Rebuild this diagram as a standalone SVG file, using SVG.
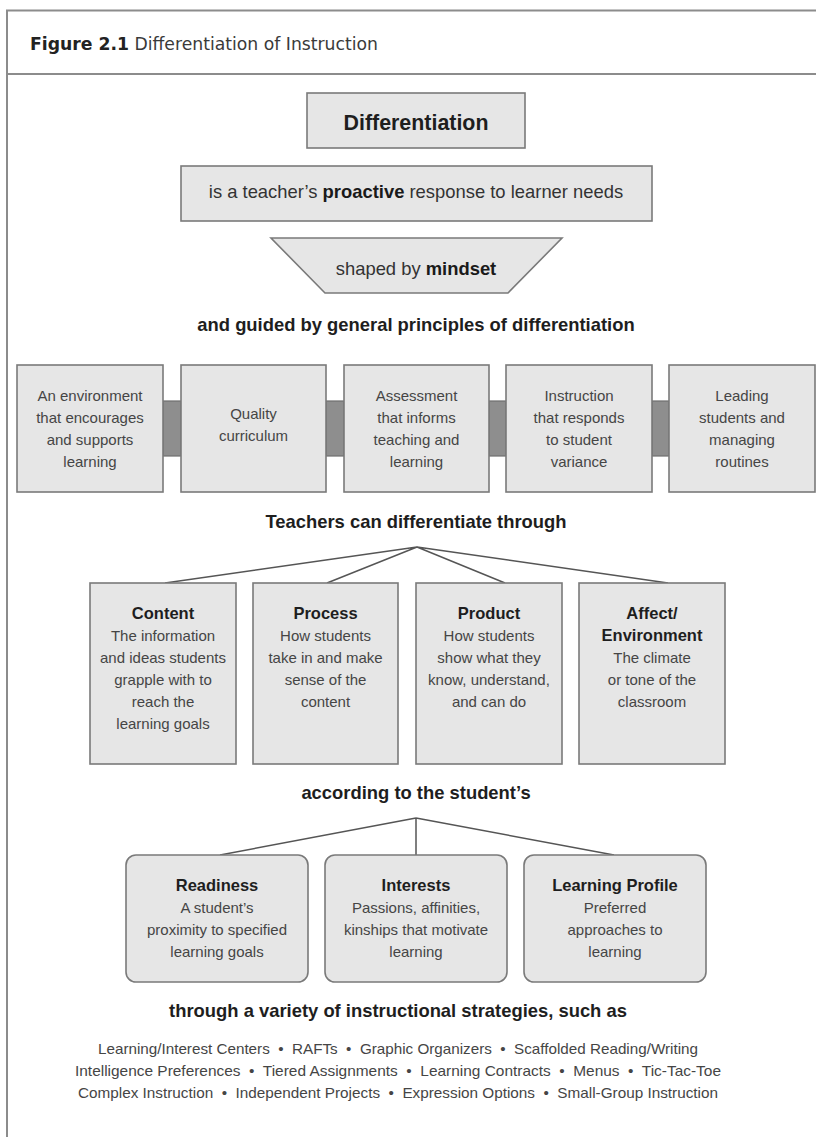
<svg xmlns="http://www.w3.org/2000/svg" width="816" height="1137" viewBox="0 0 816 1137">
  <style>
    .frame { fill: none; stroke: #8c8c8c; stroke-width: 2; }
    .box { fill: #e6e6e6; stroke: #7a7a7a; stroke-width: 1.6; }
    .band { fill: #8e8e8e; stroke: #6e6e6e; stroke-width: 1.2; }
    .link { fill: none; stroke: #555; stroke-width: 1.5; }
    text { font-family: "Liberation Sans", Arial, sans-serif; text-anchor: middle; }
    .hdr { font-family: "DejaVu Sans", sans-serif; font-size: 17px; fill: #3a3a3a; text-anchor: start; }
    .hdr .fig { font-weight: bold; fill: #222; }
    .main { font-size: 18.4px; fill: #333; }
    .main .k { font-weight: bold; fill: #1a1a1a; }
    .head { font-size: 18.4px; font-weight: bold; fill: #1e1e1e; }
    .big { font-size: 21.4px; font-weight: bold; fill: #1e1e1e; }
    .ttl { font-size: 16.5px; font-weight: bold; fill: #1e1e1e; }
    .body { font-size: 15px; fill: #454545; }
    .strat { font-size: 15px; fill: #454545; }
  </style>

  <!-- page frame and title bar -->
  <g id="frame">
    <path class="frame" d="M816 10.5 H7 V1137"/>
    <line class="frame" x1="7" y1="74" x2="816" y2="74"/>
    <text class="hdr" x="30" y="50" textLength="348" lengthAdjust="spacingAndGlyphs"><tspan class="fig">Figure 2.1</tspan> Differentiation of Instruction</text>
  </g>

  <!-- connectors -->
  <g id="connectors">
    <rect class="band" x="163" y="401" width="18" height="55"/>
    <rect class="band" x="326" y="401" width="18" height="55"/>
    <rect class="band" x="489" y="401" width="17" height="55"/>
    <rect class="band" x="652" y="401" width="17" height="55"/>
    <path class="link" d="M417 547 L165 583 M417 547 L327 583 M417 547 L505 583 M417 547 L668 583"/>
    <path class="link" d="M416 818 L220 855 M416 818 L416 855 M416 818 L614 855"/>
  </g>

  <!-- top definition -->
  <g id="differentiation">
    <rect class="box" x="307" y="93" width="218" height="55"/>
    <text class="big" x="416" y="130">Differentiation</text>
  </g>
  <g id="proactive">
    <rect class="box" x="181" y="166" width="471" height="55"/>
    <text class="main" x="416" y="198">is a teacher’s <tspan class="k">proactive</tspan> response to learner needs</text>
  </g>
  <g id="mindset">
    <polygon class="box" points="271,238 562,238 508,293 325,293"/>
    <text class="main" x="416" y="275">shaped by <tspan class="k">mindset</tspan></text>
  </g>
  <g id="principles-label">
    <text class="head" x="416" y="331">and guided by general principles of differentiation</text>
  </g>

  <!-- principles row -->
  <g id="p-environment">
    <rect class="box" x="17" y="365" width="146" height="127"/>
    <text class="body" x="90" y="401">An environment</text>
    <text class="body" x="90" y="423">that encourages</text>
    <text class="body" x="90" y="445">and supports</text>
    <text class="body" x="90" y="467">learning</text>
  </g>
  <g id="p-curriculum">
    <rect class="box" x="181" y="365" width="145" height="127"/>
    <text class="body" x="253.5" y="419">Quality</text>
    <text class="body" x="253.5" y="441">curriculum</text>
  </g>
  <g id="p-assessment">
    <rect class="box" x="344" y="365" width="145" height="127"/>
    <text class="body" x="416.5" y="401">Assessment</text>
    <text class="body" x="416.5" y="423">that informs</text>
    <text class="body" x="416.5" y="445">teaching and</text>
    <text class="body" x="416.5" y="467">learning</text>
  </g>
  <g id="p-instruction">
    <rect class="box" x="506" y="365" width="146" height="127"/>
    <text class="body" x="579" y="401">Instruction</text>
    <text class="body" x="579" y="423">that responds</text>
    <text class="body" x="579" y="445">to student</text>
    <text class="body" x="579" y="467">variance</text>
  </g>
  <g id="p-routines">
    <rect class="box" x="669" y="365" width="146" height="127"/>
    <text class="body" x="742" y="401">Leading</text>
    <text class="body" x="742" y="423">students and</text>
    <text class="body" x="742" y="445">managing</text>
    <text class="body" x="742" y="467">routines</text>
  </g>

  <g id="through-label">
    <text class="head" x="416" y="528">Teachers can differentiate through</text>
  </g>

  <!-- what can be differentiated -->
  <g id="content">
    <rect class="box" x="90" y="583" width="146" height="181"/>
    <text class="ttl" x="163" y="619">Content</text>
    <text class="body" x="163" y="641">The information</text>
    <text class="body" x="163" y="663">and ideas students</text>
    <text class="body" x="163" y="685">grapple with to</text>
    <text class="body" x="163" y="707">reach the</text>
    <text class="body" x="163" y="729">learning goals</text>
  </g>
  <g id="process">
    <rect class="box" x="253" y="583" width="145" height="181"/>
    <text class="ttl" x="325.5" y="619">Process</text>
    <text class="body" x="325.5" y="641">How students</text>
    <text class="body" x="325.5" y="663">take in and make</text>
    <text class="body" x="325.5" y="685">sense of the</text>
    <text class="body" x="325.5" y="707">content</text>
  </g>
  <g id="product">
    <rect class="box" x="416" y="583" width="146" height="181"/>
    <text class="ttl" x="489" y="619">Product</text>
    <text class="body" x="489" y="641">How students</text>
    <text class="body" x="489" y="663">show what they</text>
    <text class="body" x="489" y="685">know, understand,</text>
    <text class="body" x="489" y="707">and can do</text>
  </g>
  <g id="affect">
    <rect class="box" x="579" y="583" width="146" height="181"/>
    <text class="ttl" x="652" y="619">Affect/</text>
    <text class="ttl" x="652" y="641">Environment</text>
    <text class="body" x="652" y="663">The climate</text>
    <text class="body" x="652" y="685">or tone of the</text>
    <text class="body" x="652" y="707">classroom</text>
  </g>

  <g id="according-label">
    <text class="head" x="416" y="799">according to the student’s</text>
  </g>

  <!-- student characteristics -->
  <g id="readiness">
    <rect class="box" x="126" y="855" width="182" height="127" rx="10"/>
    <text class="ttl" x="217" y="891">Readiness</text>
    <text class="body" x="217" y="913">A student’s</text>
    <text class="body" x="217" y="935">proximity to specified</text>
    <text class="body" x="217" y="957">learning goals</text>
  </g>
  <g id="interests">
    <rect class="box" x="325" y="855" width="182" height="127" rx="10"/>
    <text class="ttl" x="416" y="891">Interests</text>
    <text class="body" x="416" y="913">Passions, affinities,</text>
    <text class="body" x="416" y="935">kinships that motivate</text>
    <text class="body" x="416" y="957">learning</text>
  </g>
  <g id="learning-profile">
    <rect class="box" x="524" y="855" width="182" height="127" rx="10"/>
    <text class="ttl" x="615" y="891">Learning Profile</text>
    <text class="body" x="615" y="913">Preferred</text>
    <text class="body" x="615" y="935">approaches to</text>
    <text class="body" x="615" y="957">learning</text>
  </g>

  <!-- strategies -->
  <g id="strategies">
    <text class="head" x="398" y="1017">through a variety of instructional strategies, such as</text>
    <text class="strat" x="398" y="1054" textLength="600" lengthAdjust="spacingAndGlyphs">Learning/Interest Centers &#160;•&#160; RAFTs &#160;•&#160; Graphic Organizers &#160;•&#160; Scaffolded Reading/Writing</text>
    <text class="strat" x="398" y="1076" textLength="646" lengthAdjust="spacingAndGlyphs">Intelligence Preferences &#160;•&#160; Tiered Assignments &#160;•&#160; Learning Contracts &#160;•&#160; Menus &#160;•&#160; Tic-Tac-Toe</text>
    <text class="strat" x="398" y="1098" textLength="640" lengthAdjust="spacingAndGlyphs">Complex Instruction &#160;•&#160; Independent Projects &#160;•&#160; Expression Options &#160;•&#160; Small-Group Instruction</text>
  </g>
</svg>
